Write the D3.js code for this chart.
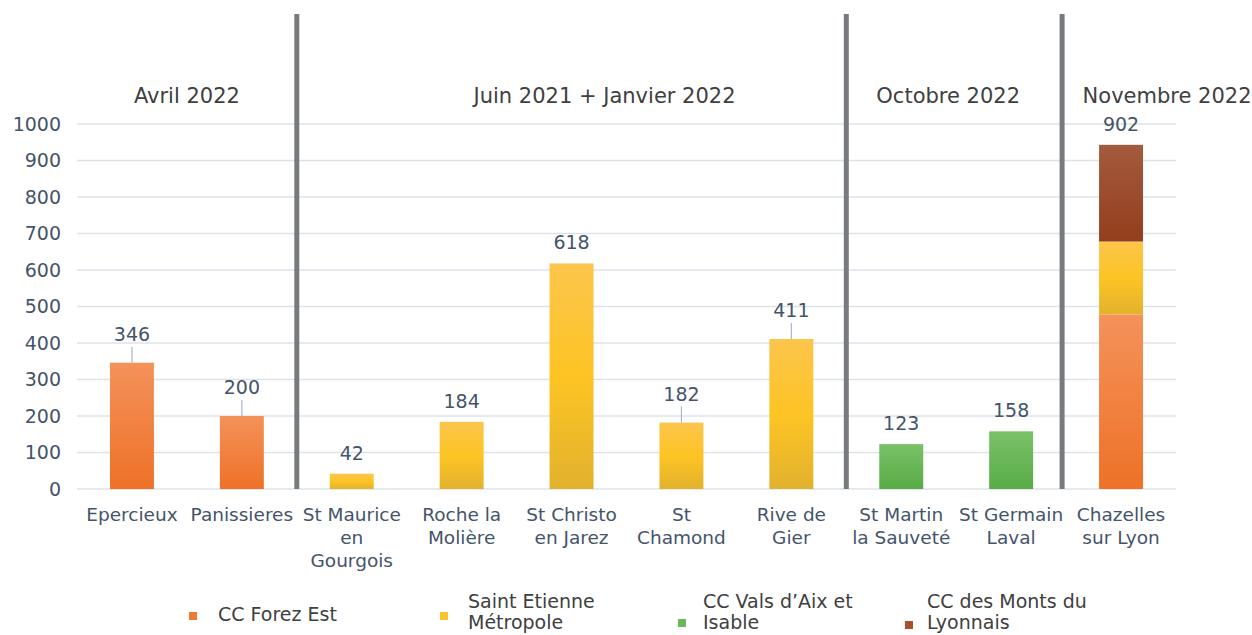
<!DOCTYPE html>
<html>
<head>
<meta charset="utf-8">
<script src="https://cdn.jsdelivr.net/npm/d3@7"></script>
<style>
  html, body { margin: 0; padding: 0; background: #fff; }
  svg { display: block; font-family: "DejaVu Sans", Verdana, sans-serif; }
</style>
</head>
<body>
<div id="chart"></div>
<script>
// Communes (x axis), multi-line labels split on "\n"
const communes = [
    "Epercieux", "Panissieres", "St Maurice\nen\nGourgois", "Roche la\nMolière",
    "St Christo\nen Jarez", "St\nChamond", "Rive de\nGier", "St Martin\nla Sauveté",
    "St Germain\nLaval", "Chazelles\nsur Lyon"
];

// Series values per commune
const forezEst      = [346, 200, 0, 0, 0, 0, 0, 0, 0, 478];
const saintEtienne  = [0, 0, 42, 184, 618, 182, 411, 0, 0, 200];
const valsAix       = [0, 0, 0, 0, 0, 0, 0, 123, 158, 0];
const montsLyonnais = [0, 0, 0, 0, 0, 0, 0, 0, 0, 265];

// Labels printed above the bars
const totalLabels = [346, 200, 42, 184, 618, 182, 411, 123, 158, 902];
const hasLeader   = [true, true, false, false, false, true, true, false, false, false];

// Survey periods: first and last commune index
const periods     = ["Avril 2022", "Juin 2021 + Janvier 2022", "Octobre 2022", "Novembre 2022"];
const periodStart = [0, 2, 7, 9];
const periodEnd   = [1, 6, 8, 9];

const seriesNames = ["CC Forez Est", "Saint Etienne\nMétropole", "CC Vals d’Aix et\nIsable", "CC des Monts du\nLyonnais"];
const yTicks = [0, 100, 200, 300, 400, 500, 600, 700, 800, 900, 1000];

const width = 1252, height = 635;
const margin = { top: 124, right: 76, bottom: 146, left: 77 };
const inkText = "#44546a", greyText = "#404040";

const svg = d3.select("#chart").append("svg")
    .attr("width", width)
    .attr("height", height);

// gradients (top -> bottom)
const gradStops = [
    ["#f4925a", "#ee7127"],
    ["#fcc54c", "#fdc424", "#e2b22d"],
    ["#79c268", "#58ab47"],
    ["#a35b3e", "#933e1c"]
];
const defs = svg.append("defs");
gradStops.forEach((stops, i) => {
    const g = defs.append("linearGradient")
        .attr("id", "grad" + i)
        .attr("x1", 0).attr("y1", 0).attr("x2", 0).attr("y2", 1);
    stops.forEach((c, j) => {
        g.append("stop")
            .attr("offset", (j / (stops.length - 1) * 100) + "%")
            .attr("stop-color", c);
    });
});

const x = d3.scaleBand()
    .domain(d3.range(communes.length))
    .range([margin.left, width - margin.right])
    .paddingInner(0.6)
    .paddingOuter(0.3);

const y = d3.scaleLinear()
    .domain([0, 1000])
    .range([height - margin.bottom, margin.top]);

// gridlines
svg.append("g")
    .selectAll("line")
    .data(yTicks)
    .join("line")
    .attr("x1", margin.left)
    .attr("x2", width - margin.right)
    .attr("y1", d => y(d))
    .attr("y2", d => y(d))
    .attr("stroke", "#dbe3ea")
    .attr("stroke-width", 1.5);

// y axis labels
const yAxis = d3.axisLeft(y).tickValues(yTicks).tickFormat(d3.format("d")).tickSize(0).tickPadding(16);
svg.append("g")
    .attr("transform", `translate(${margin.left},0)`)
    .call(yAxis)
    .call(g => g.select(".domain").remove())
    .selectAll("text")
    .attr("fill", inkText)
    .style("font-size", "19px")
    .style("font-family", "DejaVu Sans, Verdana, sans-serif");

// stacked bars
const rows = communes.map((c, i) => ({
    i: i, s0: forezEst[i], s1: saintEtienne[i], s2: valsAix[i], s3: montsLyonnais[i]
}));
const stack = d3.stack().keys(["s0", "s1", "s2", "s3"]);
const layers = stack(rows);

svg.append("g")
    .selectAll("g")
    .data(layers)
    .join("g")
    .attr("fill", (d, k) => `url(#grad${k})`)
    .selectAll("rect")
    .data(d => d.filter(p => p[1] - p[0] > 0))
    .join("rect")
    .attr("x", p => x(p.data.i))
    .attr("width", x.bandwidth())
    .attr("y", p => y(p[1]))
    .attr("height", p => y(p[0]) - y(p[1]));

// separators between periods
const step = x.step();
const sepX = periodStart.slice(1).map(i => x(i) - step * x.paddingOuter());
svg.append("g")
    .selectAll("line")
    .data(sepX)
    .join("line")
    .attr("x1", (d, k) => k === 2 ? d - 4 : d)
    .attr("x2", (d, k) => k === 2 ? d - 4 : d)
    .attr("y1", 14).attr("y2", y(0))
    .attr("stroke", "#787b7e")
    .attr("stroke-width", 5);

// value labels + leader lines
const barTop = i => y(forezEst[i] + saintEtienne[i] + valsAix[i] + montsLyonnais[i]);
const labels = svg.append("g");
communes.forEach((c, i) => {
    const cx = x(i) + x.bandwidth() / 2;
    const top = barTop(i);
    const lift = hasLeader[i] ? 18 : 10;
    if (hasLeader[i]) {
        labels.append("line")
            .attr("x1", cx).attr("x2", cx)
            .attr("y1", top).attr("y2", top - lift + 2)
            .attr("stroke", "#a9b6c6")
            .attr("stroke-width", 1.2);
    }
    labels.append("text")
        .attr("x", cx)
        .attr("y", top - lift - 4)
        .attr("text-anchor", "middle")
        .attr("fill", inkText)
        .style("font-size", "19px")
        .text(totalLabels[i]);
});

// category labels
const cats = svg.append("g");
communes.forEach((c, i) => {
    const t = cats.append("text")
        .attr("x", x(i) + x.bandwidth() / 2)
        .attr("y", y(0) + 32)
        .attr("text-anchor", "middle")
        .attr("fill", inkText)
        .style("font-size", "18.5px");
    c.split("\n").forEach((line, k) => {
        t.append("tspan")
            .attr("x", x(i) + x.bandwidth() / 2)
            .attr("dy", k === 0 ? 0 : 23)
            .text(line);
    });
});

// period headers
const headerShift = [0, 33, -8, 46];
periods.forEach((p, k) => {
    const cx = (x(periodStart[k]) + x(periodEnd[k]) + x.bandwidth()) / 2 + headerShift[k];
    svg.append("text")
        .attr("x", cx)
        .attr("y", 103)
        .attr("text-anchor", "middle")
        .attr("fill", greyText)
        .style("font-size", "21px")
        .text(p);
});

// legend
const legendX = [189, 440, 678, 905];
const legendTextX = [218, 468, 703, 927];
const legendSwatchY = [612, 612, 619, 621];
const legendColors = ["#ef7a34", "#fcc22a", "#6cb95a", "#a8532c"];
seriesNames.forEach((name, k) => {
    svg.append("rect")
        .attr("x", legendX[k])
        .attr("y", legendSwatchY[k])
        .attr("width", 8)
        .attr("height", 8)
        .attr("fill", legendColors[k]);
    const lines = name.split("\n");
    const t = svg.append("text")
        .attr("fill", greyText)
        .style("font-size", "19px")
        .attr("y", lines.length === 1 ? 621 : 608);
    lines.forEach((line, j) => {
        t.append("tspan")
            .attr("x", legendTextX[k])
            .attr("dy", j === 0 ? 0 : 21)
            .text(line);
    });
});
</script>
</body>
</html>
